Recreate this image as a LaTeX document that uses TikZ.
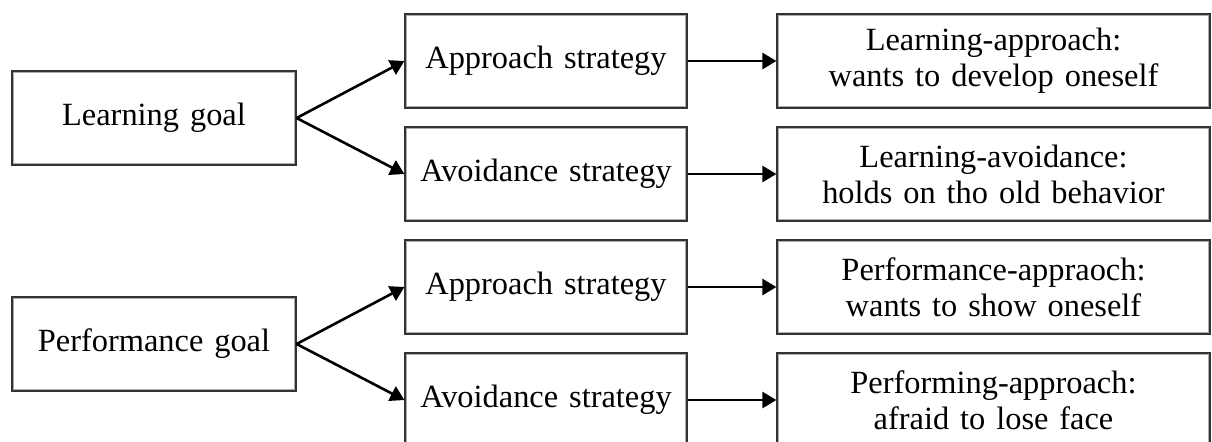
\documentclass[tikz,border=0pt]{standalone}
\usepackage{fontspec}
\setmainfont{Liberation Serif}[WordSpace=1.35]
\usetikzlibrary{arrows.meta}
\begin{document}
\begin{tikzpicture}
  [x=0.5pt,y=-0.5pt,every node/.style={rectangle,draw=black!80,line width=0.6pt,fill=white,
   font=\fontsize{16.2}{18}\selectfont,align=center,minimum height=47pt,inner sep=0pt,
   path picture={\draw[gray!65,line width=2.4pt] (path picture bounding box.south west) rectangle (path picture bounding box.north east);}}]
  \tikzstyle{goal} = [minimum width=142pt]
  \tikzstyle{strat} = [minimum width=141pt]
  \tikzstyle{result} = [minimum width=216.5pt]
  \useasboundingbox (0,0) rectangle (1212,441);
  \node[goal] (lg) at (154,118) {Learning goal};
  \node[goal] (pg) at (154,344) {Performance goal};
  \node[strat] (s1) at (546,61)  {Approach strategy};
  \node[strat] (s2) at (546,174) {Avoidance strategy};
  \node[strat] (s3) at (546,287) {Approach strategy};
  \node[strat] (s4) at (546,400) {Avoidance strategy};
  \node[result] (r1) at (993.5,61)  {Learning-approach:\\wants to develop oneself};
  \node[result] (r2) at (993.5,174) {Learning-avoidance:\\holds on tho old behavior};
  \node[result] (r3) at (993.5,287) {Performance-appraoch:\\wants to show oneself};
  \node[result] (r4) at (993.5,400) {Performing-approach:\\afraid to lose face};
  \foreach \source /\dest in {lg/s1,lg/s2,pg/s3,pg/s4,s1/r1,s2/r2,s3/r3,s4/r4}
   \draw[line width=1.3pt,-{Triangle[length=7pt,width=8pt]}] (\source.east) -- (\dest.west);
\end{tikzpicture}
\end{document}
